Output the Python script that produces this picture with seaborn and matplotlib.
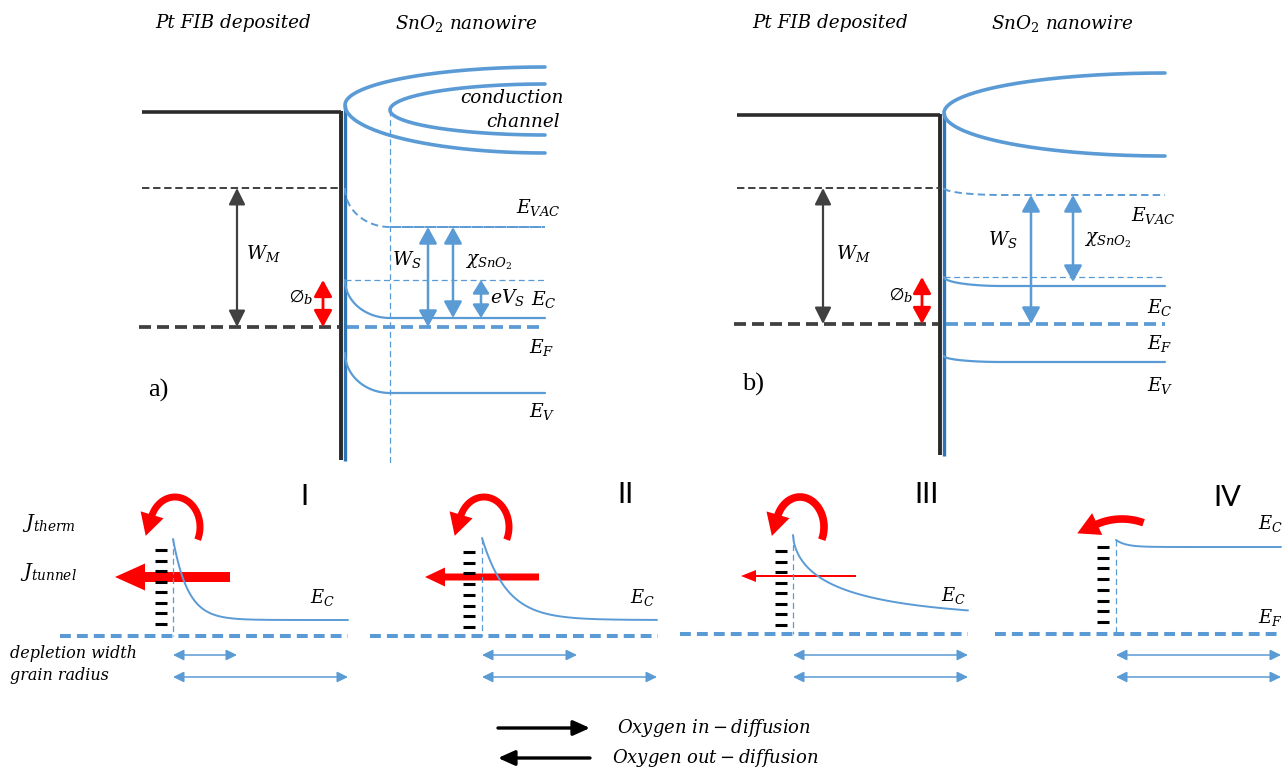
import numpy as np
import matplotlib
matplotlib.use("Agg")
import matplotlib.pyplot as plt
from matplotlib.patches import Polygon
import seaborn as sns

sns.set_theme(style="white")
plt.rcParams["mathtext.fontset"] = "dejavuserif"
plt.rcParams["font.family"] = ["DejaVu Serif", "DejaVu Sans"]
plt.rcParams["text.color"] = "black"

BLUE = "#5b9bd5"
DEEP_BLUE = "#2e75b6"
DARK = "#404040"
METAL = "#2b2b2b"
RED = "#ff0000"

# ---------------- band diagrams a) and b) (levels in px, downward) ----------
panel_tags = ["a)", "b)"]
metal_left = [142, 737]
junction_x = [341, 940]
wire_right = [545, 1165]
metal_top = [112, 115]
junction_bottom = [460, 455]
vac_metal = [188, 188]
vac_wire = [227, 195]
ec_edge = [280, 277]
ec_bulk = [318, 286]
fermi_level = [327, 324]
ev_edge = [353, 356]
ev_bulk = [393, 362]
bend_reach = [45, 58]
channel_tip = [105, 113]
channel_top = [67, 73]
channel_bottom = [153, 156]
# inner conduction channel of a)
inner_tip_x, inner_tip_y = 390, 110
inner_top, inner_bottom = 84, 135

# arrow columns (x) for W_M, phi_b, W_S, chi, eV_S
wm_x = [237, 823]
phib_x = [323, 922]
ws_x = [428, 1031]
chi_x = [453, 1073]
evs_x = [481, None]

# ---------------- regimes I-IV --------------------------------------------
regimes = ["I", "II", "III", "IV"]
regime_pos = [(304, 497), (625, 495), (927, 495), (1227, 498)]
grain_left = [60, 370, 680, 995]
grain_right = [348, 658, 968, 1282]
surface_x = [173, 482, 793, 1116]
fermi_bottom = [636, 636, 634, 634]
ec_surface = [539, 538, 535, 540]
ec_depth = [81, 82, 86, 7]
ec_decay = [15, 25, 51, 10]
ec_stretch = [1.0, 1.0, 0.6, 1.0]
depletion_right = [237, 577, 968, 1281]
grain_arrow_right = [348, 657, 968, 1281]
trap_x = [161, 469, 781, 1103]
trap_span = [(550, 624), (552, 627), (551, 625), (547, 622)]
n_traps = 8
tunnel_tail = [230, 539, 856]
tunnel_tip = [115, 425, 741]
tunnel_y = [577, 577, 576]
tunnel_shaft = [10, 7, 2]
tunnel_head_w = [27, 19, 12]
tunnel_head_l = [30, 20, 15]
# thermionic arcs: centre, radii, start/end angle (deg), line width (pt)
therm_arcs = [
    (175, 527, 25, 30, -25, 160, 5.0),
    (484, 527, 25, 30, -25, 160, 5.0),
    (800, 527, 24, 30, -25, 160, 5.5),
    (1122, 582, 63, 63, 70, 115, 5.5),
]
ec_label_pos = [(322, 597), (642, 598), (953, 595), (1270, 523)]

fig = plt.figure(figsize=(12.82, 7.69), dpi=100)
ax = fig.add_axes([0, 0, 1, 1])

THIN = (0, (4.8, 2.9))


def bend(x0, y0, w, y1, x_end, n=50):
    t = np.linspace(0, np.pi / 2, n)
    xs = x0 + w * (1 - np.cos(t))
    ys = y0 + (y1 - y0) * np.sin(t)
    return np.append(xs, x_end), np.append(ys, y1)


def channel(xv, yv, x_end, y_top, y_bot, n=80):
    t = np.linspace(0, np.pi / 2, n)
    rx = x_end - xv
    xu = x_end - rx * np.cos(t)
    yu = yv - (yv - y_top) * np.sin(t)
    yl = yv + (y_bot - yv) * np.sin(t)
    return np.concatenate([xu[::-1], xu]), np.concatenate([yu[::-1], yl])


def dbl_arrow(x, y0, y1, color, lw, hl, hw):
    ax.annotate("", xy=(x, y1), xytext=(x, y0),
                arrowprops=dict(arrowstyle=f"<|-|>,head_length={hl},head_width={hw}",
                                color=color, lw=lw, shrinkA=0, shrinkB=0,
                                mutation_scale=10))


def hdbl_arrow(x0, x1, y):
    ax.annotate("", xy=(x1, y), xytext=(x0, y),
                arrowprops=dict(arrowstyle="<|-|>,head_length=0.65,head_width=0.32",
                                color=BLUE, lw=1.1, shrinkA=0, shrinkB=0,
                                mutation_scale=10))


def curved_arrow(cx, cy, rx, ry, th0, th1, lw, hl=22, hw=12):
    t = np.radians(np.linspace(th0, th1, 80))
    xs = cx + rx * np.cos(t)
    ys = cy - ry * np.sin(t)
    ax.plot(xs, ys, color=RED, lw=lw, solid_capstyle="butt")
    d = np.array([-rx * np.sin(t[-1]), -ry * np.cos(t[-1])])
    d /= np.hypot(*d)
    nrm = np.array([-d[1], d[0]])
    base = np.array([xs[-1], ys[-1]]) - d * 2
    tip = base + d * hl
    ax.add_patch(Polygon([base + nrm * hw, tip, base - nrm * hw],
                         closed=True, color=RED, lw=0))


for i in range(2):
    xj = junction_x[i]
    xs_ = xj + 4
    xr = wire_right[i]
    # metal side
    ax.plot([metal_left[i], xj], [metal_top[i], metal_top[i]], color=METAL, lw=2.6,
            solid_capstyle="butt")
    ax.plot([xj, xj], [metal_top[i] - 1, junction_bottom[i]], color=METAL, lw=2.8,
            solid_capstyle="butt")
    ax.plot([xs_, xs_], [channel_tip[i], junction_bottom[i] + 1], color=DEEP_BLUE,
            lw=2.4, solid_capstyle="butt")
    ax.plot([metal_left[i], xj], [vac_metal[i]] * 2, color=DARK, lw=1.4,
            linestyle=(0, (3.8, 1.9)))
    ax.plot([metal_left[i] - 3, xj - 2], [fermi_level[i]] * 2, color=DARK, lw=2.7,
            linestyle=(0, (3.2, 1.6)))
    # conduction channel
    cxs, cys = channel(xs_, channel_tip[i], xr, channel_top[i], channel_bottom[i])
    ax.plot(cxs, cys, color=BLUE, lw=2.6)
    # semiconductor levels
    bx, by = bend(xs_, vac_metal[i], bend_reach[i], vac_wire[i], xr)
    ax.plot(bx, by, color=BLUE, lw=1.4, linestyle=(0, (3.8, 2.2)))
    bx, by = bend(xs_, ec_edge[i], bend_reach[i], ec_bulk[i], xr)
    sns.lineplot(x=bx, y=by, ax=ax, color=BLUE, lw=1.6, estimator=None, sort=False)
    bx, by = bend(xs_, ev_edge[i], bend_reach[i], ev_bulk[i], xr)
    sns.lineplot(x=bx, y=by, ax=ax, color=BLUE, lw=1.6, estimator=None, sort=False)
    ax.plot([xs_, xr], [ec_edge[i]] * 2, color=BLUE, lw=0.9, linestyle=THIN)
    ax.plot([xs_ + 2, xr], [fermi_level[i]] * 2, color=BLUE, lw=2.7,
            linestyle=(0, (3.2, 1.6)))
    # arrows
    dbl_arrow(wm_x[i], vac_metal[i], fermi_level[i], DARK, 1.6, 1.0, 0.5)
    dbl_arrow(phib_x[i], ec_edge[i], fermi_level[i], RED, 2.0, 1.0, 0.55)
    dbl_arrow(ws_x[i], vac_wire[i], fermi_level[i], BLUE, 1.8, 1.0, 0.55)
    chi_end = ec_bulk[i] if i == 0 else ec_edge[i] + 5
    dbl_arrow(chi_x[i], vac_wire[i], chi_end, BLUE, 1.8, 1.0, 0.55)
    if evs_x[i] is not None:
        dbl_arrow(evs_x[i], ec_edge[i], ec_bulk[i], BLUE, 1.8, 0.8, 0.5)

# inner channel and depletion edge of a)
ix, iy = channel(inner_tip_x, inner_tip_y, wire_right[0], inner_top, inner_bottom)
ax.plot(ix, iy, color=BLUE, lw=2.6)
ax.plot([inner_tip_x, inner_tip_x], [inner_tip_y, 463], color=BLUE, lw=0.9,
        linestyle=THIN)
ax.plot([inner_tip_x, wire_right[0]], [vac_wire[0]] * 2, color=BLUE, lw=1.4,
        linestyle=(0, (3.8, 2.2)))

lab = dict(fontsize=13.5, ha="center", va="center")
top_labels = [
    [(r"$W_M$", 263, 253), (r"$\emptyset_b$", 301, 297), (r"$W_S$", 407, 260),
     (r"$\chi_{SnO_2}$", 489, 262), (r"$eV_S$", 508, 298), (r"$E_C$", 544, 300),
     (r"$E_{VAC}$", 538, 208), (r"$E_F$", 542, 347), (r"$E_V$", 542, 412)],
    [(r"$W_M$", 853, 253), (r"$\emptyset_b$", 901, 295), (r"$W_S$", 1003, 240),
     (r"$\chi_{SnO_2}$", 1108, 240), (r"$E_{VAC}$", 1153, 215), (r"$E_C$", 1160, 307),
     (r"$E_F$", 1160, 343), (r"$E_V$", 1160, 386)],
]
for group in top_labels:
    for txt, x, y in group:
        ax.text(x, y, txt, **lab)

ax.text(512, 98, "conduction", fontsize=13.2, style="italic", ha="center", va="center")
ax.text(523, 122, "channel", fontsize=13.2, style="italic", ha="center", va="center")
for tag, (x, y) in zip(panel_tags, [(158, 390), (753, 384)]):
    ax.text(x, y, tag, fontsize=19, family="Liberation Serif", ha="center", va="center")
for xc in (233, 830):
    ax.text(xc, 23, "Pt FIB deposited", fontsize=13.2, style="italic", ha="center",
            va="center")
for xc in (466, 1062):
    ax.text(xc, 23, r"$SnO_2$ nanowire", fontsize=13.2, style="italic", ha="center",
            va="center")

# ---------------- regimes I-IV ---------------------------------------------
for k in range(4):
    x0 = surface_x[k]
    ef = fermi_bottom[k]
    ax.plot([grain_left[k], grain_right[k]], [ef, ef], color=BLUE, lw=2.9,
            linestyle=(0, (2.7, 1.5)))
    ax.plot([x0, x0], [ec_surface[k], ef], color=BLUE, lw=0.9, linestyle=THIN)
    xs = np.linspace(x0, grain_arrow_right[k], 200)
    ys = ec_surface[k] + ec_depth[k] * (1 - np.exp(-((xs - x0) / ec_decay[k]) ** ec_stretch[k]))
    sns.lineplot(x=xs, y=ys, ax=ax, color=BLUE, lw=1.4, estimator=None, sort=False)
    for yt in np.linspace(*trap_span[k], n_traps):
        ax.plot([trap_x[k] - 6, trap_x[k] + 6], [yt, yt], color="black", lw=2.2,
                solid_capstyle="butt")
    hdbl_arrow(x0, depletion_right[k], 655)
    hdbl_arrow(x0, grain_arrow_right[k], 677)
    curved_arrow(*therm_arcs[k])
    if k < 3:
        ax.arrow(tunnel_tail[k], tunnel_y[k], tunnel_tip[k] - tunnel_tail[k], 0,
                 width=tunnel_shaft[k], head_width=tunnel_head_w[k],
                 head_length=tunnel_head_l[k], length_includes_head=True,
                 color=RED, lw=0)
    ax.text(*regime_pos[k], regimes[k], fontsize=21, family="Lato", ha="center",
            va="center", color="black")
    ax.text(*ec_label_pos[k], r"$E_C$", fontsize=13, ha="center", va="center")

ax.text(1270, 617, r"$E_F$", fontsize=13, ha="center", va="center")
ax.text(22, 523, r"$J_{therm}$", fontsize=14, ha="left", va="center")
ax.text(20, 572, r"$J_{tunnel}$", fontsize=14, ha="left", va="center")
ax.text(10, 653, "depletion width", fontsize=11.5, style="italic", ha="left",
        va="center")
ax.text(10, 676, "grain radius", fontsize=11.5, style="italic", ha="left",
        va="center")

# diffusion legend
for (xa, xb, y) in [(498, 590, 728), (590, 498, 758)]:
    ax.annotate("", xy=(xb, y), xytext=(xa, y),
                arrowprops=dict(arrowstyle="-|>,head_length=1.0,head_width=0.45",
                                color="black", lw=2.4, shrinkA=0, shrinkB=0,
                                mutation_scale=10))
ax.text(617, 728, r"$Oxygen\ in - diffusion$", fontsize=13, ha="left", va="center")
ax.text(612, 758, r"$Oxygen\ out - diffusion$", fontsize=13, ha="left", va="center")

ax.set_xlim(0, 1282)
ax.set_ylim(769, 0)
ax.axis("off")
fig.savefig("out.png", dpi=100, facecolor="white")
